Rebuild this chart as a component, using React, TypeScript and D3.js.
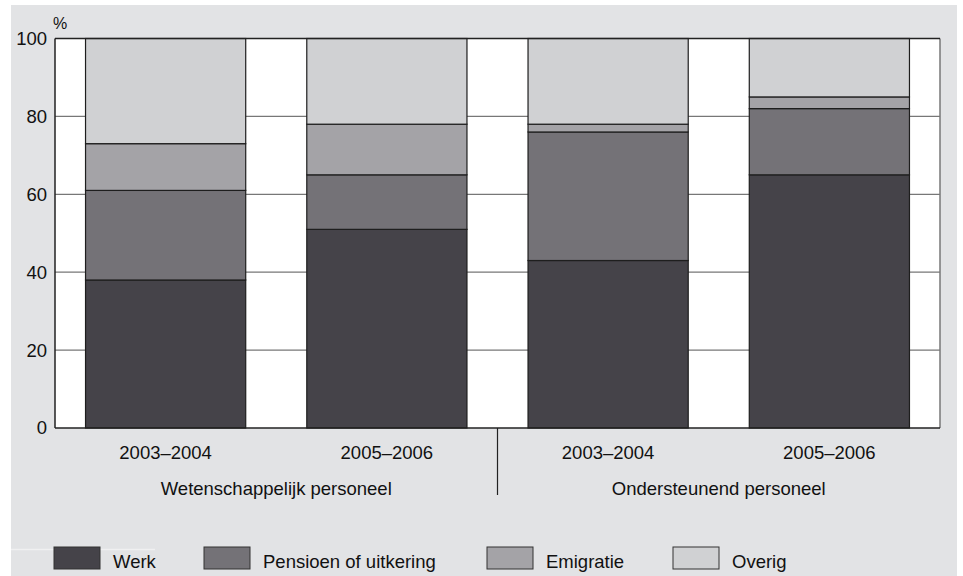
import React from "react";
import * as d3 from "d3";

const barLabels = ["2003–2004", "2005–2006", "2003–2004", "2005–2006"];
const groupLabels = ["Wetenschappelijk personeel", "Ondersteunend personeel"];
const seriesNames = ["Werk", "Pensioen of uitkering", "Emigratie", "Overig"];
const werk = [38, 51, 43, 65];
const pensioen = [23, 14, 33, 17];
const emigratie = [12, 13, 2, 3];
const overig = [27, 22, 22, 15];
const yTicks = [0, 20, 40, 60, 80, 100];
const colors = ["#454349", "#747277", "#a4a3a7", "#d0d1d3"];

const W = 963;
const H = 576;
const M = { left: 55, right: 940, top: 38.5, bottom: 428 };
const FONT = "'Liberation Sans', Arial, Helvetica, sans-serif";
const FS = 18.5;

export default function App() {
  const ids = barLabels.map((_, i) => String(i));
  const x = d3
    .scaleBand<string>()
    .domain(ids)
    .range([M.left, M.right])
    .paddingInner(0.276)
    .paddingOuter(0.138);
  const y = d3.scaleLinear().domain([0, 100]).range([M.bottom, M.top]);

  const rows = ids.map((id, i) => ({
    id,
    Werk: werk[i],
    "Pensioen of uitkering": pensioen[i],
    Emigratie: emigratie[i],
    Overig: overig[i],
  }));
  const stack = d3.stack<any>().keys(seriesNames)(rows);

  const legendX = [54, 204, 487, 673];
  const sepX = (x("1")! + x.bandwidth() + x("2")!) / 2;

  return (
    <svg
      width={W}
      height={H}
      style={{ position: "absolute", left: 0, top: 0, fontFamily: FONT }}
    >
      <rect x={11} y={5} width={946} height={571} fill="#e2e3e5" />
      <line x1={11} x2={155} y1={549.5} y2={549.5} stroke="#f0f0f1" strokeWidth={1.5} />
      <rect x={M.left} y={M.top} width={M.right - M.left} height={M.bottom - M.top} fill="#ffffff" />
      {yTicks
        .filter((t) => t > 0 && t < 100)
        .map((t) => (
          <line key={t} x1={M.left} x2={M.right} y1={y(t)} y2={y(t)} stroke="#777" strokeWidth={1.2} />
        ))}
      <line x1={M.right} x2={M.right} y1={M.top} y2={M.bottom} stroke="#777" strokeWidth={1.5} />
      {stack.map((s, si) =>
        s.map((d, i) => (
          <rect
            key={si + "-" + i}
            x={x(ids[i])}
            y={y(d[1])}
            width={x.bandwidth()}
            height={y(d[0]) - y(d[1])}
            fill={colors[si]}
            stroke="#1e1e1e"
            strokeWidth={1.2}
          />
        ))
      )}
      <line x1={M.left} x2={M.right} y1={M.top} y2={M.top} stroke="#222" strokeWidth={1.5} />
      <line x1={M.left} x2={M.left} y1={M.top} y2={M.bottom} stroke="#222" strokeWidth={1.5} />
      <line x1={M.left} x2={M.right} y1={M.bottom} y2={M.bottom} stroke="#222" strokeWidth={1.5} />
      <line x1={sepX} x2={sepX} y1={M.bottom} y2={495} stroke="#222" strokeWidth={1.2} />
      {yTicks.map((t) => (
        <text key={t} x={47} y={y(t)} dy="0.35em" textAnchor="end" fontSize={FS} fill="#111">
          {t}
        </text>
      ))}
      <text x={53} y={29} fontSize={16} fill="#111">%</text>
      {barLabels.map((l, i) => (
        <text
          key={i}
          x={x(ids[i])! + x.bandwidth() / 2}
          y={453}
          dy="0.35em"
          textAnchor="middle"
          fontSize={FS}
          fill="#111"
        >
          {l}
        </text>
      ))}
      {groupLabels.map((g, gi) => (
        <text
          key={g}
          x={(x(ids[gi * 2])! + x(ids[gi * 2 + 1])! + x.bandwidth()) / 2}
          y={489}
          dy="0.35em"
          textAnchor="middle"
          fontSize={FS}
          fill="#111"
        >
          {g}
        </text>
      ))}
      {seriesNames.map((n, i) => (
        <g key={n}>
          <rect
            x={legendX[i]}
            y={547}
            width={46}
            height={22}
            fill={colors[i]}
            stroke="#333"
            strokeWidth={1}
          />
          <text x={legendX[i] + 59} y={562} dy="0.35em" fontSize={FS} fill="#111">
            {n}
          </text>
        </g>
      ))}
    </svg>
  );
}
